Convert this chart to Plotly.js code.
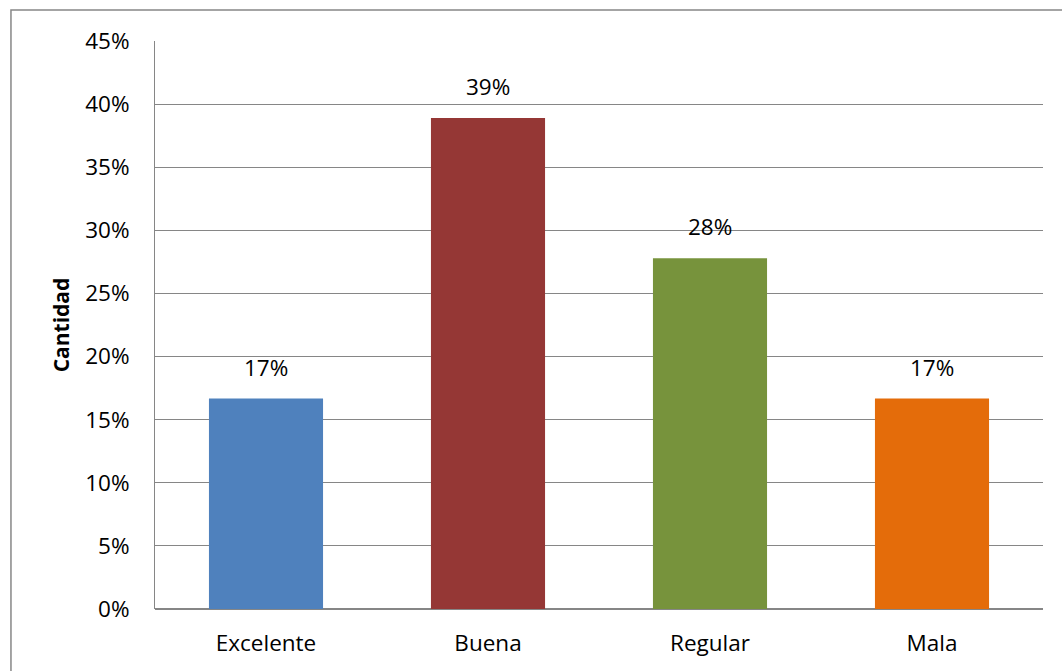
<!DOCTYPE html>
<html>
<head>
<meta charset="utf-8">
<script src="https://cdn.plot.ly/plotly-3.0.1.min.js"></script>
<style>html,body{margin:0;padding:0;background:#fff;}</style>
</head>
<body>
<div id="chart" style="width:1062px;height:671px;"></div>
<script>
const categories = ["Excelente", "Buena", "Regular", "Mala"];
const values = [0.1667, 0.3889, 0.2778, 0.1667];
const labels = ["17%", "39%", "28%", "17%"];
const colors = ["#4F81BD", "#953735", "#77933C", "#E46C0A"];
const yTickVals = [0, 0.05, 0.10, 0.15, 0.20, 0.25, 0.30, 0.35, 0.40, 0.45];

const FONT = "'Open Sans', sans-serif";
const FS = 22.5;

const trace = {
  type: "bar",
  x: categories,
  y: values,
  marker: {color: colors, line: {width: 0}},
  hoverinfo: "none"
};

const annotations = categories.map((c, i) => ({
  x: c, y: values[i], xref: "x", yref: "y",
  text: labels[i], showarrow: false,
  yanchor: "bottom", yshift: 14,
  font: {family: FONT, size: FS, color: "#000"}
}));

const layout = {
  width: 1062, height: 671,
  margin: {l: 155, r: 19, t: 41, b: 62},
  paper_bgcolor: "#fff", plot_bgcolor: "#fff",
  showlegend: false,
  bargap: 0.486,
  font: {family: FONT, size: FS, color: "#000"},
  xaxis: {
    type: "category",
    showgrid: false,
    showline: false,
    zeroline: false,
    ticks: "",
    ticklabelstandoff: 18,
    tickfont: {family: FONT, size: FS, color: "#000"}
  },
  yaxis: {
    range: [0, 0.45],
    tickvals: yTickVals,
    tickformat: ".0%",
    showgrid: true,
    gridcolor: "#868686",
    gridwidth: 1,
    showline: true,
    linecolor: "#868686",
    linewidth: 1,
    zeroline: true,
    zerolinecolor: "#868686",
    zerolinewidth: 1.5,
    ticks: "",
    ticklabelstandoff: 20,
    tickfont: {family: FONT, size: FS, color: "#000"},
    title: {text: "<b>Cantidad</b>", standoff: 9, font: {family: FONT, size: 21, color: "#000"}}
  },
  annotations: annotations,
  shapes: [{
    type: "rect", xref: "paper", yref: "paper",
    x0: -0.1622, x1: 1.05, y0: -0.2, y1: 1.0546,
    line: {color: "#878787", width: 1.5}, fillcolor: "rgba(0,0,0,0)", layer: "above"
  }]
};

Plotly.newPlot("chart", [trace], layout, {displayModeBar: false, staticPlot: true});
</script>
</body>
</html>
